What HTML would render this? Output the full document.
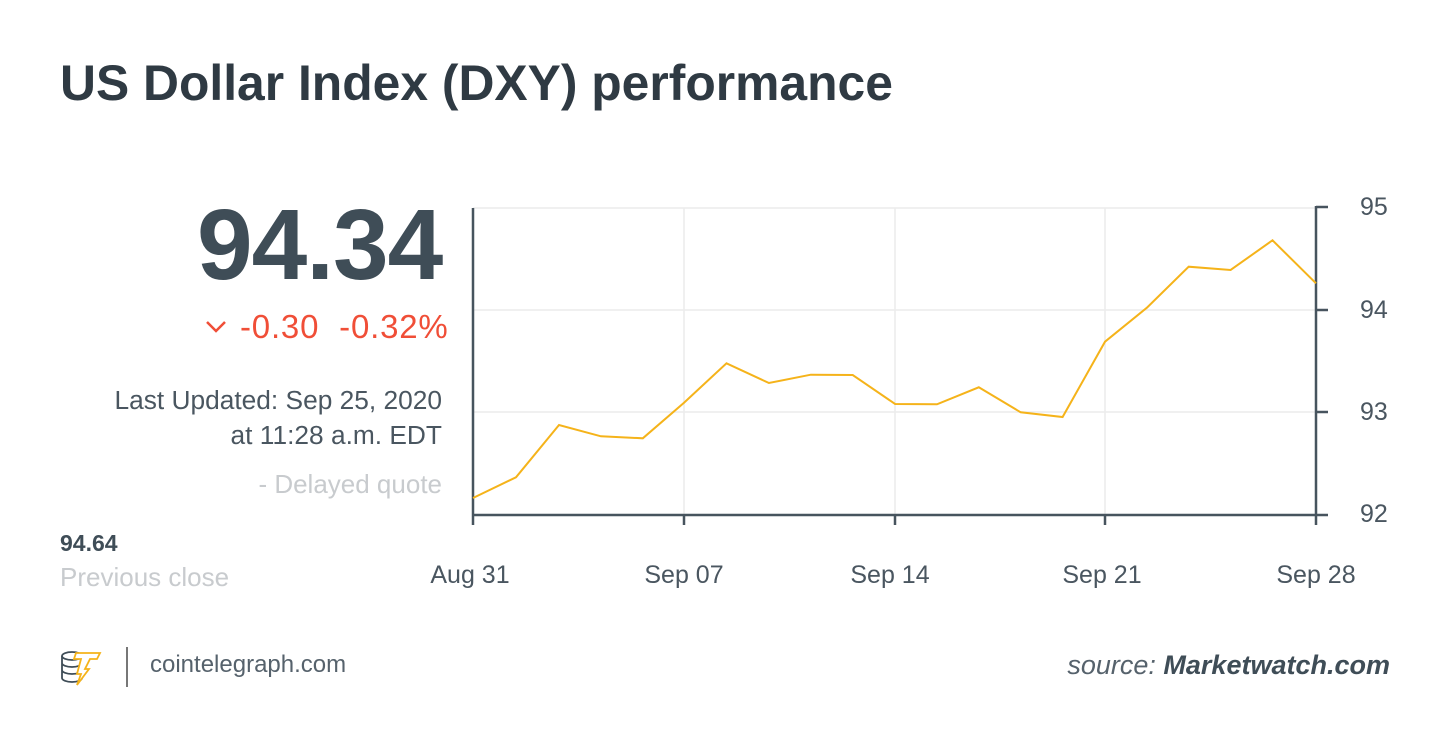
<!DOCTYPE html>
<html><head><meta charset="utf-8"><style>
body{margin:0;width:1450px;height:747px;background:#fff;font-family:"Liberation Sans",sans-serif;overflow:hidden;position:relative}
.t{position:absolute;white-space:nowrap}
</style></head><body>
<div class="t" style="left:60px;top:54px;font-size:49.8px;font-weight:bold;color:#2f3a43">US Dollar Index (DXY) performance</div>
<div class="t" style="left:197px;top:188px;font-size:100px;font-weight:bold;color:#3f4d57;letter-spacing:-1px">94.34</div>
<div class="t" style="left:240px;top:308px;font-size:33px;color:#f04e37;letter-spacing:0.8px">-0.30 &nbsp;-0.32%</div>
<svg style="position:absolute;left:205px;top:320px" width="24" height="14"><path d="M2 2 L11 11 L20 2" fill="none" stroke="#f04e37" stroke-width="2.5"/></svg>
<div class="t" style="right:1008px;top:383px;font-size:26.3px;color:#4a5660;text-align:right;line-height:35px">Last Updated: Sep 25, 2020<br>at 11:28 a.m. EDT</div>
<div class="t" style="right:1008px;top:469px;font-size:26px;color:#c8cbce">- Delayed quote</div>
<div class="t" style="left:60px;top:530px;font-size:23px;font-weight:bold;color:#3f4d57">94.64</div>
<div class="t" style="left:60px;top:562px;font-size:26px;color:#c8cbce">Previous close</div>
<svg style="position:absolute;left:0;top:0" width="1450" height="747">
<g stroke="#ececec" stroke-width="1.5">
<line x1="473" y1="208" x2="1316" y2="208"/><line x1="473" y1="310" x2="1316" y2="310"/><line x1="473" y1="412" x2="1316" y2="412"/>
<line x1="684" y1="208" x2="684" y2="515"/><line x1="895" y1="208" x2="895" y2="515"/><line x1="1105" y1="208" x2="1105" y2="515"/>
</g>
<g stroke="#47545e" stroke-width="2.5">
<line x1="473" y1="208" x2="473" y2="525"/><line x1="1316" y1="206" x2="1316" y2="525"/>
<line x1="473" y1="515" x2="1328" y2="515"/>
<line x1="684" y1="515" x2="684" y2="525"/><line x1="895" y1="515" x2="895" y2="525"/><line x1="1105" y1="515" x2="1105" y2="525"/>
<line x1="1316" y1="207" x2="1328" y2="207"/><line x1="1316" y1="310" x2="1328" y2="310"/><line x1="1316" y1="412" x2="1328" y2="412"/>
</g>
<polyline fill="none" stroke="#f5b31a" stroke-width="2" points="473,498 516,477.3 559,425 600.9,436.3 642.8,438.3 684,402.7 726.5,363.3 768.9,383 810.8,374.7 852.7,375 895.1,404 937,404.3 978.8,387.3 1020.7,412.3 1062.6,417 1105,341.7 1146.9,307.7 1188.7,266.7 1230.6,270 1272.5,240.3 1316,283.3"/>
<g font-family="Liberation Sans" font-size="25" fill="#4a5660">
<text x="1360" y="215">95</text><text x="1360" y="318">94</text><text x="1360" y="420">93</text><text x="1360" y="522">92</text>
</g>
<g font-family="Liberation Sans" font-size="25" fill="#4a5660" text-anchor="middle">
<text x="470" y="583">Aug 31</text><text x="684" y="583">Sep 07</text><text x="890" y="583">Sep 14</text><text x="1102" y="583">Sep 21</text><text x="1316" y="583">Sep 28</text>
</g>
<g fill="none" stroke="#3f4d57" stroke-width="1.8">
<ellipse cx="72" cy="656" rx="10" ry="4"/>
<path d="M62 656 v22 a10 4 0 0 0 20 0 v-22 M62 663 a10 4 0 0 0 20 0 M62 670 a10 4 0 0 0 20 0"/>
</g>
<path d="M76 653 h24 l-3 6 h-7 l-5 10 h4 l-12 16 l4 -11 h-4 l4 -15 h-7 z" fill="#fff" stroke="#f5b31a" stroke-width="1.8"/>
<line x1="127" y1="647" x2="127" y2="687" stroke="#777" stroke-width="2"/>
</svg>
<div class="t" style="left:150px;top:651px;font-size:24px;color:#56626c">cointelegraph.com</div>
<div class="t" style="right:60px;top:650px;font-size:27px;color:#56626c;font-style:italic">source: <b style="color:#3f4d57">Marketwatch.com</b></div>
</body></html>
